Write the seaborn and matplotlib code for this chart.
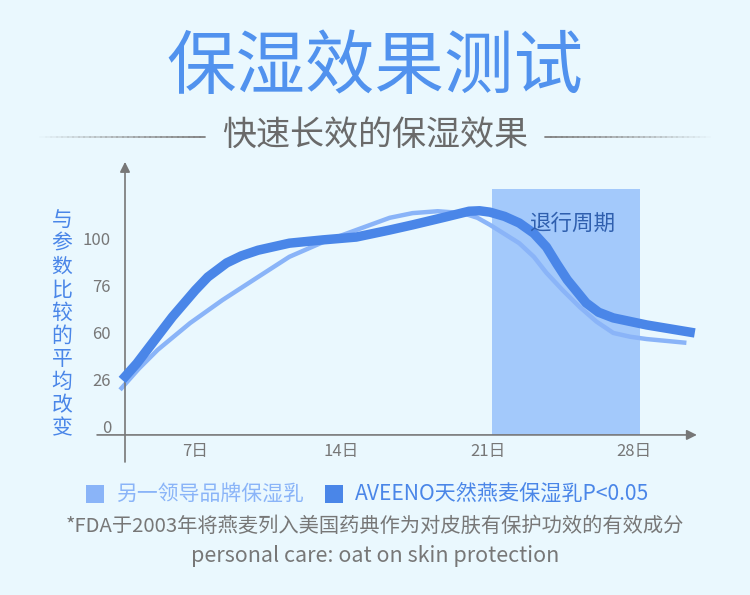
import numpy as np
import pandas as pd
import matplotlib
matplotlib.use('Agg')
import matplotlib.pyplot as plt
from matplotlib.lines import Line2D
from matplotlib.patches import Rectangle
import seaborn as sns

# days and curve values (y in tick-position units: 0..4 -> labels below)
aveeno_day = [3.5, 4.2, 4.8, 5.9, 7.0, 7.6, 8.5, 9.2, 10.0, 11.5, 13.1, 14.7, 16.3, 17.4,
              19.0, 20.1, 20.6, 21.1, 21.8, 22.5, 23.2, 23.8, 24.3, 24.8, 25.7, 26.3,
              27.0, 28.6, 30.9]
aveeno_val = [0.98, 1.33, 1.68, 2.32, 2.89, 3.17, 3.47, 3.62, 3.74, 3.89, 3.96, 4.02,
              4.17, 4.28, 4.45, 4.57, 4.58, 4.55, 4.46, 4.32, 4.10, 3.81, 3.45, 3.11,
              2.62, 2.42, 2.30, 2.15, 1.98]
other_day = [3.4, 4.3, 5.2, 6.75, 8.3, 10.0, 11.5, 13.1, 14.7, 16.3, 17.4, 18.6, 19.8,
             20.5, 21.1, 22.5, 23.2, 23.8, 24.6, 25.4, 26.2, 27.0, 27.8, 28.6, 30.5]
other_val = [0.77, 1.22, 1.62, 2.19, 2.68, 3.17, 3.60, 3.91, 4.17, 4.43, 4.53, 4.57, 4.53,
             4.43, 4.28, 3.89, 3.60, 3.26, 2.88, 2.53, 2.22, 1.98, 1.90, 1.85, 1.77]
y_labels = ['0', '26', '60', '76', '100']
x_ticks = [7, 14, 21, 28]
x_labels = ['7日', '14日', '21日', '28日']
regress_start, regress_end = 21.2, 28.3

bg = '#eaf8fe'
dark = '#4a86e8'
light = '#8ab4f8'
grey = '#777777'

sns.set_style('white')
plt.rcParams['font.family'] = ['Noto Sans CJK SC', 'DejaVu Sans']

fig = plt.figure(figsize=(7.5, 5.95), dpi=100)
fig.patch.set_facecolor(bg)
W, H = 750, 595


def px(x0, y0, x1, y1):
    return [x0 / W, 1 - y1 / H, (x1 - x0) / W, (y1 - y0) / H]


ax = fig.add_axes(px(125, 160, 700, 462))
ax.set_facecolor(bg)
x_axis_y = -0.19
ax.set_xlim(3.636, 31.15)
ax.set_ylim(-0.766, 5.66)

ax.add_patch(Rectangle((regress_start, x_axis_y), regress_end - regress_start,
                       5.04 - x_axis_y, facecolor='#a3c9fb', edgecolor='none', zorder=1))
ax.text((regress_start + regress_end) / 2 + 0.3, 4.3, '退行周期', ha='center', va='center',
        fontsize=15.5, color='#2f5fae', zorder=5)

df_other = pd.DataFrame({'day': other_day, 'val': other_val})
df_aveeno = pd.DataFrame({'day': aveeno_day, 'val': aveeno_val})
sns.lineplot(data=df_other, x='day', y='val', ax=ax, color=light, lw=3.2,
             sort=False, zorder=3, solid_capstyle='butt')
sns.lineplot(data=df_aveeno, x='day', y='val', ax=ax, color=dark, lw=6.8,
             sort=False, zorder=4, solid_capstyle='butt')
for ln in ax.lines:
    ln.set_clip_on(False)
    ln.set_solid_joinstyle('round')

for s in ax.spines.values():
    s.set_visible(False)
ax.spines['bottom'].set_position(('data', x_axis_y))

ax.set_yticks(range(len(y_labels)), y_labels)
ax.set_xticks(x_ticks, x_labels)
ax.tick_params(axis='both', length=0, labelsize=12, labelcolor=grey)
ax.tick_params(axis='y', pad=10)
ax.tick_params(axis='x', pad=6)
ax.set_xlabel('')
ax.set_ylabel('')

# axis lines with arrows
ax.annotate('', xy=(31.0, x_axis_y), xytext=(2.3, x_axis_y), annotation_clip=False,
            arrowprops=dict(arrowstyle='-|>,head_length=0.6,head_width=0.3',
                            color=grey, lw=1.2, shrinkA=0, shrinkB=0))
ax.annotate('', xy=(3.636, 5.62), xytext=(3.636, -0.766), annotation_clip=False,
            arrowprops=dict(arrowstyle='-|>,head_length=0.6,head_width=0.3',
                            color=grey, lw=1.2, shrinkA=0, shrinkB=0))

# vertical y label
ylab = '与参数比较的平均改变'
for i, ch in enumerate(ylab):
    fig.text(62 / W, 1 - (220 + i * 23.1) / H, ch, ha='center', va='center',
             fontsize=15, color=dark)

# title and subtitle
fig.text(0.5, 1 - 68 / H, '保湿效果测试', ha='center', va='center', fontsize=50,
         color='#5192ee')
fig.text(0.5, 1 - 135 / H, '快速长效的保湿效果', ha='center', va='center', fontsize=24.5,
         color='#6a6a6a')
for x0, x1, rev in [(40, 205, False), (545, 710, True)]:
    n = 30
    xs = np.linspace(x0, x1, n + 1)
    for k in range(n):
        a = (k + 1) / n if not rev else 1 - k / n
        fig.add_artist(Line2D([xs[k] / W, xs[k + 1] / W], [1 - 137 / H, 1 - 137 / H],
                              color='#808080', alpha=a, lw=1.3))

# legend
fig.add_artist(Rectangle((86 / W, 1 - 503 / H), 18 / W, 18 / H, facecolor=light,
                         edgecolor='none'))
fig.text(117 / W, 1 - 494 / H, '另一领导品牌保湿乳', ha='left', va='center', fontsize=15,
         color=light)
fig.add_artist(Rectangle((325 / W, 1 - 503 / H), 18 / W, 18 / H, facecolor=dark,
                         edgecolor='none'))
fig.text(355 / W, 1 - 494 / H, 'AVEENO天然燕麦保湿乳P<0.05', ha='left', va='center',
         fontsize=15.2, color=dark)

fig.text(0.5, 1 - 526 / H, '*FDA于2003年将燕麦列入美国药典作为对皮肤有保护功效的有效成分',
         ha='center', va='center', fontsize=14.6, color=grey)
fig.text(0.5, 1 - 556 / H, 'personal care: oat on skin protection', ha='center',
         va='center', fontsize=15.5, color=grey)

fig.savefig('out.png', dpi=100, facecolor=bg)
